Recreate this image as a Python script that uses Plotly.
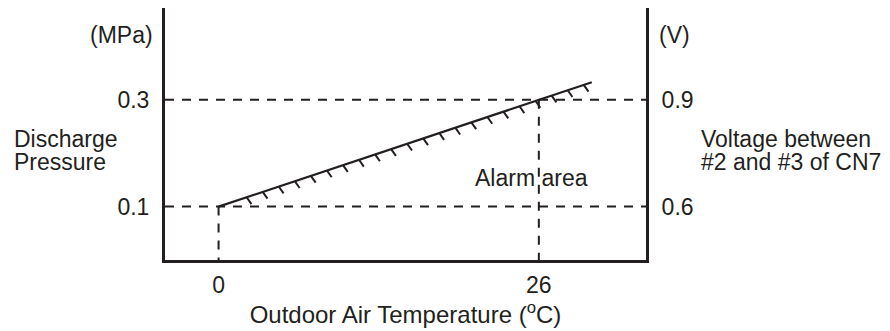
import numpy as np
import plotly.graph_objects as go

# Marked values on each axis
temp_ticks = [0, 26]
pressure_ticks = [0.1, 0.3]
voltage_ticks = [0.6, 0.9]

# Alarm threshold: outdoor air temperature (°C) vs discharge pressure (MPa)
line_temp = [0, 26, 30.3]
line_pressure = [0.1, 0.3, 0.333]

x_range = [-4.35, 34.7]
p_range = [0.0, 0.472]

# voltage axis: 0.1 MPa <-> 0.6 V, 0.3 MPa <-> 0.9 V
v_per_p = (voltage_ticks[1] - voltage_ticks[0]) / (pressure_ticks[1] - pressure_ticks[0])
v_range = [voltage_ticks[0] + (p - pressure_ticks[0]) * v_per_p for p in p_range]

INK = "#231f20"
FONT = dict(family="Liberation Sans, Arial, sans-serif", size=23, color=INK)

W, H = 890, 331
ML, MR, MT, MB = 165, 244, 8, 71
PW, PH = W - ML - MR, H - MT - MB


def px(xp):
    return (xp - ML) / PW


def py(yp):
    return (H - MB - yp) / PH


fig = go.Figure()

# hatching below the threshold line (alarm side)
hx = np.arange(2.28, 29.8, 1.303)
hp = np.interp(hx, line_temp, line_pressure)
dx = 4.8 * (x_range[1] - x_range[0]) / PW
dy = 6.8 * (p_range[1] - p_range[0]) / PH
hatch_x, hatch_y = [], []
for x0, p0 in zip(hx, hp):
    hatch_x += [x0, x0 + dx, None]
    hatch_y += [p0, p0 - dy, None]
fig.add_trace(go.Scatter(x=hatch_x, y=hatch_y, mode="lines",
                         line=dict(color=INK, width=2), hoverinfo="skip"))

# threshold line
fig.add_trace(go.Scatter(x=line_temp, y=line_pressure, mode="lines",
                         line=dict(color=INK, width=2.2), hoverinfo="skip"))

# voltage axis carrier
fig.add_trace(go.Scatter(x=[None], y=[None], yaxis="y2", showlegend=False))

dash = "9px,8px"
for p in pressure_ticks:
    fig.add_shape(type="line", xref="x domain", yref="y", x0=0, x1=1, y0=p, y1=p,
                  line=dict(color=INK, width=2, dash=dash))
for t, p in zip(temp_ticks, pressure_ticks):
    fig.add_shape(type="line", xref="x", yref="y", x0=t, x1=t, y0=p, y1=p_range[0],
                  line=dict(color=INK, width=2, dash=dash))

notes = [
    ("(MPa)", 155, 35, "right"),
    ("(V)", 657, 35, "left"),
    ("Discharge", 12, 139, "left"),
    ("Pressure", 12, 162, "left"),
    ("Voltage between", 699, 139, "left"),
    ("#2 and #3 of CN7", 699, 162, "left"),
    ("Alarm area", 531.5, 178, "center"),
]
for text, xp, yp, anchor in notes:
    fig.add_annotation(text=text, xref="paper", yref="paper", x=px(xp), y=py(yp),
                       xanchor=anchor, yanchor="middle", showarrow=False, font=FONT)

axis_common = dict(showgrid=False, zeroline=False, ticks="", automargin=False,
                   showline=True, linecolor=INK, linewidth=3, tickfont=FONT,
                   fixedrange=True)

fig.update_layout(
    width=W, height=H,
    margin=dict(l=ML, r=MR, t=MT, b=MB, pad=0),
    paper_bgcolor="white", plot_bgcolor="white",
    showlegend=False,
    font=FONT,
    xaxis=dict(range=x_range, tickvals=temp_ticks, ticktext=[str(t) for t in temp_ticks],
               ticklabelstandoff=2,
               title=dict(text="Outdoor Air Temperature (<sup>o</sup>C)",
                          font=dict(FONT, size=24), standoff=7),
               **axis_common),
    yaxis=dict(range=p_range, tickvals=pressure_ticks,
               ticktext=[f"{p:.1f}" for p in pressure_ticks], ticklabelstandoff=8,
               **axis_common),
    yaxis2=dict(range=v_range, tickvals=voltage_ticks, overlaying="y", side="right",
                ticktext=[f"{v:.1f}" for v in voltage_ticks], ticklabelstandoff=8,
                **axis_common),
)

fig.write_html("out.html", config=dict(displayModeBar=False))
